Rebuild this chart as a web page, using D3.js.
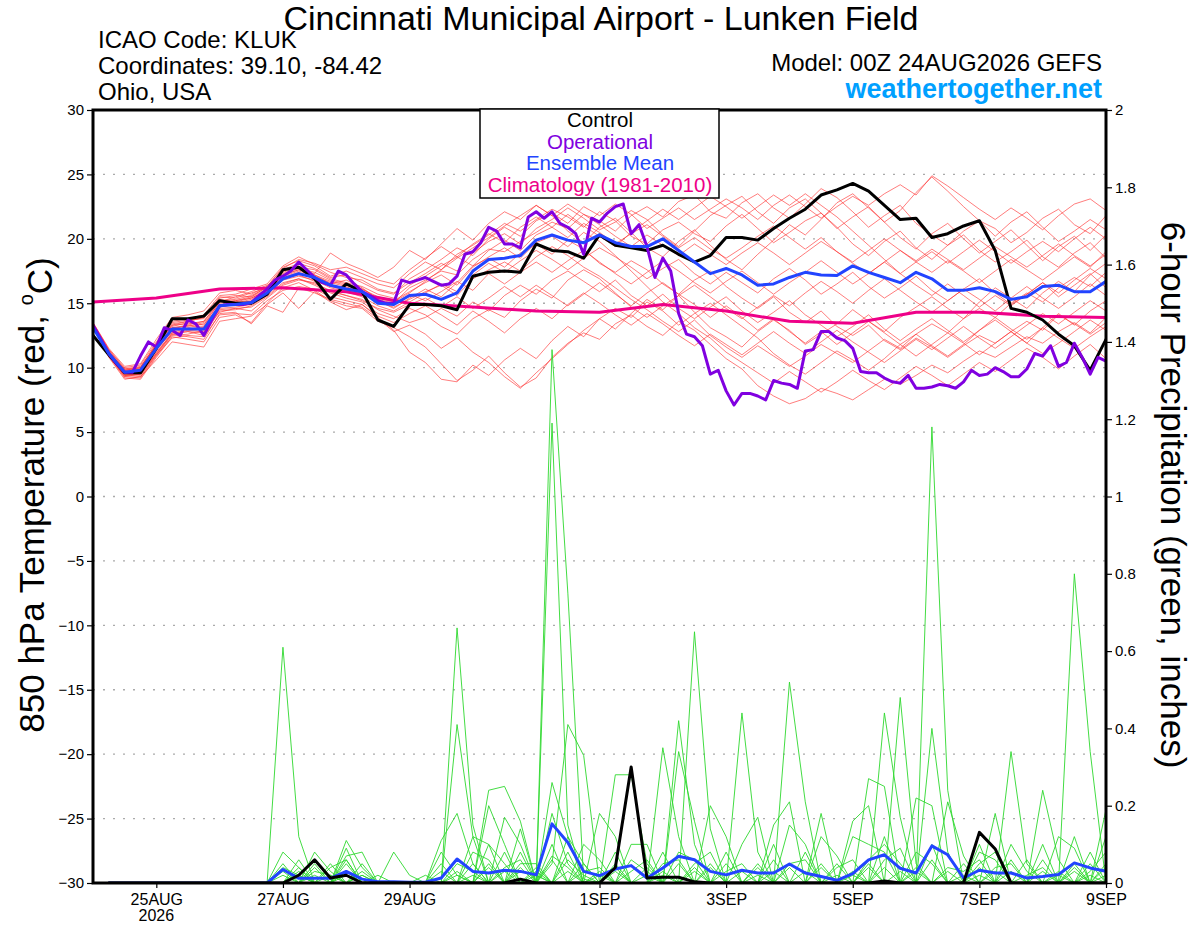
<!DOCTYPE html>
<html>
<head>
<meta charset="utf-8">
<script src="https://cdn.jsdelivr.net/npm/d3@7"></script>
<style>
  body { margin: 0; background: #fff; }
  svg { font-family: "Liberation Sans", Arial, Helvetica, sans-serif; }
</style>
</head>
<body>
<svg id="chart" width="1200" height="927"></svg>
<script>
// ---- data ----

// tick labels
var tempTicks = [-30, -25, -20, -15, -10, -5, 0, 5, 10, 15, 20, 25, 30];
var precipTicks = [0, 0.2, 0.4, 0.6, 0.8, 1, 1.2, 1.4, 1.6, 1.8, 2];
var dateTicks = ["2026-08-25", "2026-08-27", "2026-08-29", "2026-09-01",
                 "2026-09-03", "2026-09-05", "2026-09-07", "2026-09-09"];

// 850 hPa temperature, 6-hourly from 00Z 24AUG (65 values)
var controlTemp = [12.5, 11.0, 9.6, 9.6, 11.5, 13.8, 13.8, 14.0, 15.2, 15.0, 15.0, 15.7, 17.6, 17.8, 16.9, 15.3, 16.5, 15.9, 13.7, 13.2, 14.9,
  14.9, 14.8, 14.5, 17.1, 17.4, 17.5, 17.4, 19.6, 19.1, 19.0, 18.5, 20.3, 19.5, 19.3, 19.1, 19.5, 18.8, 18.2, 18.7, 20.1,
  20.1, 19.9, 20.8, 21.6, 22.3, 23.4, 23.8, 24.3, 23.7, 22.6, 21.5, 21.6, 20.1, 20.4, 21.0, 21.4, 19.1, 14.6, 14.3, 13.7, 12.6, 11.7, 9.8, 12.2];

var meanTemp = [13.1, 11.1, 9.65, 9.8, 11.5, 13.0, 13.0, 13.0, 14.8, 14.9, 15.05, 15.8, 16.9, 17.3, 17.0, 16.4, 16.1, 15.9, 15.0, 14.9, 15.6,
  15.7, 15.3, 15.8, 17.5, 18.4, 18.5, 18.7, 19.9, 20.3, 19.9, 19.7, 20.3, 19.7, 19.4, 19.4, 20.0, 19.1, 18.2, 17.3, 17.7,
  17.2, 16.4, 16.5, 17.0, 17.4, 17.2, 17.15, 17.9, 17.4, 17.0, 16.6, 17.4, 16.9, 16.0, 16.0, 16.2, 15.9, 15.3, 15.5, 16.3, 16.4, 15.9, 15.9, 16.7];

// operational run is 3-hourly (129 values)
var operTemp = [13.3, 12.2, 11.1, 10.3, 9.65, 9.65, 10.9, 12.0, 11.6, 13.1,
  12.9, 12.5, 13.7, 13.4, 12.5, 13.7, 14.8, 14.9, 14.9, 14.9,
  15.05, 15.6, 16.1, 16.8, 17.1, 17.5, 18.2, 17.6, 17.0, 16.6,
  16.4, 17.5, 17.2, 16.5, 15.9, 15.6, 15.2, 15.0, 15.0, 16.8,
  16.6, 16.8, 17.0, 16.7, 16.4, 16.5, 17.1, 18.8, 19.0, 19.7,
  20.9, 20.6, 19.6, 19.6, 19.3, 21.7, 22.1, 21.6, 22.1, 21.2,
  20.9, 20.4, 18.8, 21.6, 21.3, 22.0, 22.5, 22.7, 20.4, 21.1,
  19.4, 17.0, 18.5, 17.5, 14.2, 12.6, 12.4, 11.7, 9.5, 9.8,
  8.2, 7.1, 8.0, 8.0, 7.8, 7.5, 9.0, 8.8, 8.7, 8.4,
  11.3, 11.4, 12.8, 12.8, 12.3, 12.1, 11.5, 9.7, 9.6, 9.6,
  9.2, 8.9, 8.8, 9.4, 8.4, 8.4, 8.5, 8.7, 8.6, 8.4,
  8.9, 9.8, 9.4, 9.5, 10.0, 9.7, 9.3, 9.3, 9.9, 11.1,
  10.9, 11.7, 10.1, 10.4, 11.9, 10.8, 9.5, 10.8, 10.5];

// daily climatology 24AUG..9SEP
var climTemp = [15.1, 15.4, 16.1, 16.2, 15.9, 15.0, 14.7, 14.4, 14.3, 14.9, 14.4, 13.6, 13.45, 14.3, 14.3, 14.0, 13.9];

// ensemble members, temperature (65 values each)
var tempMembers = [
  [13.4, 11.3, 9.8, 10.0, 11.8, 13.4, 13.6, 13.9, 15.3, 15.1, 15.4, 16.0, 17.5, 17.9, 17.2, 16.5, 16.8, 16.2, 15.3, 15.0, 16.2, 16.8, 17.5, 17.2, 18.4, 19.2, 19.0, 19.8, 20.5, 21.3, 20.8, 21.9, 21.4, 20.6, 21.8, 22.5, 21.7, 22.9, 23.4, 22.1, 21.6, 22.8, 23.5, 22.4, 21.6, 22.7, 23.9, 23.2, 22.1, 20.9, 21.8, 22.6, 21.2, 20.3, 19.5, 20.6, 21.4, 20.8, 19.7, 20.5, 21.6, 22.3, 21.1, 20.4, 21.8],
  [13.2, 10.9, 9.2, 9.1, 10.8, 12.4, 12.2, 12.0, 13.9, 14.1, 13.5, 15.0, 16.2, 16.6, 16.0, 15.2, 14.8, 14.6, 13.6, 13.1, 12.4, 11.6, 10.3, 9.0, 9.8, 10.9, 9.6, 8.5, 9.2, 10.8, 11.9, 12.7, 12.2, 13.4, 14.1, 13.2, 12.5, 13.6, 12.9, 11.8, 10.7, 9.9, 8.6, 7.8, 7.2, 7.6, 8.4, 8.0, 7.5, 8.3, 9.1, 8.7, 9.4, 10.2, 9.6, 10.5, 11.3, 10.8, 11.6, 12.4, 11.9, 12.8, 13.5, 12.7, 13.9],
  [13.5, 11.5, 10.1, 10.3, 12.2, 13.9, 14.1, 14.4, 15.8, 16.0, 15.7, 16.3, 17.8, 18.3, 17.9, 17.1, 17.5, 17.0, 16.5, 16.2, 17.3, 18.2, 17.6, 18.8, 19.5, 20.3, 21.2, 20.6, 21.5, 22.3, 21.7, 20.9, 22.1, 21.4, 20.2, 19.6, 20.7, 21.3, 20.4, 19.8, 21.0, 21.9, 20.8, 19.7, 20.5, 21.4, 22.0, 20.9, 19.6, 18.7, 19.8, 20.6, 19.3, 18.4, 19.5, 20.3, 19.1, 18.2, 19.0, 19.9, 18.6, 17.8, 18.9, 19.7, 18.5],
  [13.3, 11.0, 9.5, 9.4, 11.0, 12.6, 12.8, 12.5, 14.4, 14.5, 14.8, 15.6, 16.6, 16.9, 16.4, 15.8, 15.4, 15.1, 14.2, 13.8, 14.6, 14.1, 13.2, 12.6, 13.8, 14.5, 13.9, 15.2, 16.1, 15.4, 16.8, 17.6, 16.9, 15.8, 14.7, 13.9, 14.8, 15.6, 14.3, 13.1, 12.4, 11.6, 12.8, 13.7, 12.9, 11.8, 12.6, 13.4, 14.5, 13.6, 12.8, 13.9, 14.7, 15.5, 14.6, 13.8, 15.1, 16.2, 15.4, 14.6, 15.8, 16.7, 15.9, 17.2, 18.1],
  [13.4, 11.2, 9.9, 10.1, 11.7, 13.2, 13.5, 13.3, 15.1, 15.5, 15.9, 16.4, 17.2, 17.6, 17.3, 18.9, 18.1, 17.6, 17.0, 17.8, 19.1, 18.4, 19.6, 20.8, 19.9, 21.2, 22.1, 21.5, 22.6, 21.8, 20.6, 19.7, 20.9, 21.6, 20.5, 19.3, 18.6, 19.8, 20.7, 19.5, 18.4, 17.6, 18.8, 19.9, 21.1, 20.3, 21.5, 22.8, 23.5, 22.4, 21.3, 22.2, 23.6, 24.8, 23.7, 22.5, 21.4, 20.2, 21.3, 22.1, 20.9, 19.8, 20.6, 21.5, 20.7],
  [13.2, 11.1, 9.6, 9.7, 11.3, 12.9, 13.1, 13.4, 14.7, 14.9, 15.2, 15.9, 17.1, 17.5, 17.1, 16.6, 16.3, 15.7, 15.2, 14.6, 15.4, 16.1, 15.5, 16.6, 17.9, 18.5, 17.8, 18.9, 19.6, 18.8, 19.9, 19.2, 18.1, 17.4, 18.3, 17.6, 16.5, 15.7, 16.8, 17.5, 16.3, 15.4, 14.6, 15.5, 14.3, 13.5, 14.4, 13.2, 12.5, 13.3, 12.1, 11.4, 12.3, 11.6, 10.8, 11.7, 12.5, 11.9, 12.8, 13.6, 12.9, 14.1, 13.4, 12.6, 13.5],
  [13.3, 10.8, 9.1, 9.3, 10.6, 12.0, 11.8, 11.6, 13.6, 13.8, 14.0, 14.9, 15.8, 14.6, 15.9, 15.1, 14.5, 14.9, 13.9, 12.9, 11.2, 10.4, 9.1, 8.9, 10.2, 9.4, 10.6, 11.5, 10.7, 12.1, 13.2, 12.4, 13.8, 14.6, 13.9, 15.1, 14.4, 13.3, 14.2, 15.0, 14.1, 13.2, 12.3, 11.1, 10.2, 9.5, 10.4, 11.3, 10.6, 9.8, 10.7, 11.8, 12.6, 11.7, 10.9, 11.8, 12.9, 13.7, 12.8, 11.9, 13.1, 14.2, 13.3, 14.4, 15.2],
  [13.4, 11.4, 10.0, 10.2, 12.0, 13.6, 13.8, 14.1, 15.6, 15.7, 16.1, 16.5, 17.9, 18.6, 18.0, 17.4, 17.0, 16.8, 16.1, 15.8, 16.6, 17.3, 18.1, 17.5, 18.9, 19.8, 20.4, 19.6, 20.8, 21.5, 22.4, 21.6, 20.7, 21.3, 22.2, 21.5, 20.3, 19.4, 20.6, 21.8, 22.6, 23.3, 22.1, 21.2, 22.4, 23.1, 22.0, 20.8, 21.7, 22.5, 21.3, 20.1, 19.2, 20.4, 21.2, 20.0, 18.9, 19.8, 20.7, 19.5, 18.3, 19.4, 20.2, 19.1, 20.3],
  [13.1, 11.0, 9.4, 9.5, 11.2, 12.7, 12.9, 12.8, 14.6, 14.7, 14.9, 15.7, 16.8, 17.1, 16.8, 16.2, 15.9, 15.5, 14.8, 14.4, 15.1, 15.8, 16.5, 15.9, 17.2, 18.1, 17.4, 18.3, 19.1, 18.4, 17.6, 18.5, 19.3, 18.6, 17.8, 16.9, 17.7, 18.4, 17.3, 16.5, 17.4, 16.6, 15.8, 16.9, 17.7, 16.8, 15.7, 16.5, 17.4, 16.3, 15.4, 16.2, 17.1, 16.0, 15.2, 16.1, 16.9, 15.8, 14.9, 15.7, 16.6, 15.5, 16.4, 17.3, 16.2],
  [13.2, 11.1, 9.5, 9.6, 11.4, 12.8, 13.0, 13.2, 14.9, 15.0, 15.3, 16.0, 17.0, 17.4, 16.9, 16.3, 16.0, 15.8, 15.1, 14.7, 15.3, 15.9, 16.4, 15.6, 16.9, 17.6, 18.2, 17.5, 18.6, 19.4, 18.7, 17.8, 17.1, 16.2, 15.3, 14.5, 13.6, 12.8, 13.7, 12.5, 11.6, 10.8, 11.7, 10.9, 10.1, 10.9, 11.8, 11.1, 10.4, 11.3, 12.2, 11.5, 12.6, 13.4, 12.7, 13.8, 14.6, 13.9, 15.0, 15.8, 15.1, 16.2, 17.0, 16.3, 17.4],
  [13.5, 11.4, 9.9, 10.0, 11.9, 13.5, 13.7, 13.8, 15.5, 15.4, 15.8, 16.2, 17.6, 18.1, 17.7, 17.0, 17.2, 16.6, 16.0, 15.7, 16.9, 17.6, 18.4, 19.3, 18.7, 20.0, 20.9, 20.2, 21.4, 22.0, 21.2, 22.5, 21.8, 22.7, 21.9, 20.8, 21.6, 22.4, 21.5, 22.3, 23.1, 22.4, 21.5, 22.6, 23.4, 22.5, 21.6, 22.5, 23.3, 22.6, 23.5, 24.2, 23.4, 24.9, 24.1, 23.2, 22.3, 21.5, 22.4, 21.6, 20.7, 21.8, 22.7, 23.1, 22.2],
  [13.2, 11.0, 9.3, 9.2, 10.9, 12.5, 12.6, 12.9, 14.3, 14.6, 14.4, 15.4, 16.4, 16.8, 16.6, 15.9, 15.6, 15.3, 14.5, 14.0, 13.5, 13.9, 14.6, 14.0, 15.1, 14.4, 15.6, 16.4, 15.7, 16.8, 17.5, 16.7, 15.9, 16.8, 15.6, 14.8, 15.7, 14.6, 13.8, 14.7, 15.5, 14.4, 13.5, 14.3, 15.2, 14.1, 13.3, 12.4, 13.2, 14.1, 13.0, 12.1, 13.0, 13.8, 12.9, 12.0, 12.9, 13.9, 13.0, 12.2, 13.1, 12.3, 11.5, 12.4, 13.2],
  [13.3, 11.2, 9.7, 9.9, 11.6, 13.1, 13.2, 13.5, 15.0, 15.2, 15.5, 16.1, 17.3, 17.7, 17.4, 16.8, 16.5, 16.1, 15.5, 15.2, 15.9, 16.6, 17.2, 16.4, 17.8, 18.6, 19.3, 18.5, 19.7, 20.2, 19.4, 20.5, 19.8, 18.7, 17.5, 16.3, 15.1, 14.2, 13.1, 12.3, 11.2, 10.4, 9.6, 8.8, 9.7, 8.9, 8.1, 8.9, 9.8, 9.0, 8.3, 9.2, 10.1, 9.4, 8.6, 9.5, 10.4, 9.7, 10.6, 11.5, 10.8, 9.9, 10.9, 11.8, 10.7],
  [13.4, 11.3, 9.8, 10.0, 11.8, 13.3, 13.4, 13.6, 15.2, 15.3, 15.6, 16.2, 17.4, 17.8, 17.6, 16.9, 16.6, 16.3, 15.7, 15.4, 16.4, 17.1, 17.9, 18.6, 17.9, 19.1, 19.9, 19.1, 20.3, 20.9, 20.1, 21.2, 20.5, 19.6, 20.4, 21.1, 20.2, 19.3, 20.1, 19.2, 18.5, 19.3, 20.2, 21.0, 20.1, 19.2, 20.1, 19.0, 18.2, 19.1, 20.0, 19.1, 18.3, 19.2, 18.4, 17.6, 18.5, 19.4, 18.6, 17.8, 18.7, 19.6, 18.7, 17.9, 18.8],
  [13.2, 11.1, 9.6, 9.8, 11.5, 13.0, 13.3, 13.1, 14.8, 15.1, 15.1, 15.8, 16.9, 17.2, 16.7, 16.4, 16.2, 16.0, 15.0, 14.9, 15.7, 15.2, 15.9, 16.7, 16.0, 17.3, 16.5, 17.4, 18.2, 17.4, 18.3, 19.1, 18.2, 17.3, 16.5, 17.4, 18.3, 17.5, 16.6, 15.8, 16.7, 17.5, 16.6, 15.7, 16.6, 17.4, 18.3, 17.4, 16.5, 17.3, 18.2, 17.3, 18.2, 19.0, 18.1, 19.0, 19.9, 19.0, 18.1, 19.0, 19.8, 19.0, 20.0, 20.9, 20.0],
  [13.3, 10.9, 9.3, 9.5, 11.1, 12.6, 12.4, 12.2, 14.2, 14.3, 13.4, 14.8, 14.3, 16.2, 15.8, 15.3, 15.0, 14.7, 13.8, 12.8, 13.3, 12.6, 11.5, 12.3, 11.2, 10.4, 9.3, 8.4, 9.6, 10.7, 11.8, 12.9, 13.8, 13.0, 14.2, 15.3, 14.5, 15.6, 16.4, 15.5, 14.6, 13.8, 14.7, 15.6, 14.8, 15.8, 16.7, 15.9, 15.0, 16.0, 16.9, 16.0, 15.1, 14.3, 15.2, 16.1, 15.3, 14.4, 15.4, 16.3, 15.4, 14.6, 15.5, 16.5, 15.6],
  [13.4, 11.2, 9.8, 9.9, 11.7, 13.3, 13.6, 13.9, 15.4, 15.6, 15.5, 16.3, 17.7, 18.4, 18.1, 17.6, 17.8, 17.3, 16.8, 16.5, 17.6, 18.5, 19.4, 18.6, 19.6, 20.4, 19.7, 20.9, 21.7, 20.9, 21.9, 21.0, 20.2, 19.4, 20.5, 21.4, 22.3, 21.5, 22.4, 23.3, 22.5, 21.6, 22.5, 23.4, 22.6, 23.5, 22.6, 21.7, 20.6, 19.5, 18.4, 17.3, 16.4, 15.6, 16.5, 15.6, 14.7, 15.6, 14.8, 15.7, 16.6, 15.8, 16.8, 17.7, 16.9],
  [13.1, 10.9, 9.4, 9.5, 11.1, 12.7, 12.8, 12.7, 14.5, 14.6, 14.7, 15.5, 16.5, 16.9, 16.5, 16.0, 15.6, 15.2, 14.6, 14.3, 14.9, 15.4, 14.7, 15.5, 14.6, 15.4, 16.3, 15.5, 16.4, 15.6, 14.8, 15.7, 16.6, 15.7, 14.8, 15.8, 16.6, 15.7, 14.9, 13.9, 14.8, 13.9, 12.9, 13.8, 12.8, 11.9, 12.8, 11.8, 12.7, 13.6, 12.7, 11.8, 10.9, 11.8, 12.7, 11.9, 11.0, 11.9, 12.8, 11.9, 11.1, 11.9, 12.8, 13.7, 12.9],
  [13.3, 11.2, 9.7, 9.8, 11.6, 13.1, 13.3, 13.6, 15.1, 15.2, 15.4, 16.0, 17.2, 17.6, 17.2, 16.7, 16.4, 16.1, 15.4, 15.1, 15.8, 16.7, 17.6, 18.5, 19.3, 20.1, 21.0, 21.8, 22.6, 21.8, 22.7, 21.9, 21.1, 20.2, 19.4, 20.3, 19.5, 18.7, 19.6, 18.8, 18.0, 18.9, 19.7, 18.9, 18.0, 18.9, 19.8, 19.0, 18.1, 17.3, 18.2, 19.1, 18.2, 17.4, 18.3, 17.5, 16.6, 17.5, 18.4, 17.6, 16.8, 17.7, 18.6, 17.8, 19.0],
  [13.2, 11.0, 9.4, 9.3, 11.0, 12.3, 12.5, 12.4, 14.1, 14.2, 14.1, 15.2, 16.0, 16.3, 16.1, 15.5, 15.2, 14.9, 14.0, 13.5, 14.2, 14.8, 14.1, 13.3, 14.4, 13.6, 12.7, 13.8, 14.6, 13.8, 14.9, 15.8, 15.0, 14.1, 13.3, 14.2, 13.4, 12.5, 11.7, 12.6, 11.8, 11.0, 11.9, 12.8, 11.9, 11.1, 12.0, 12.9, 12.0, 11.2, 10.4, 11.3, 12.2, 11.4, 12.3, 13.2, 12.3, 11.5, 12.4, 13.3, 14.2, 13.4, 14.3, 15.2, 14.4]
];

// 6-hour precipitation, inches, periods ending 06Z 24AUG .. 00Z 9SEP (64 values)
var meanPrecip = [0, 0, 0, 0, 0, 0, 0, 0, 0, 0, 0, 0.035, 0.012, 0.012, 0.012, 0.03,
  0.01, 0.003, 0.003, 0.002, 0.002, 0.013, 0.062, 0.03, 0.026, 0.033, 0.03, 0.021, 0.153, 0.105, 0.03, 0.019,
  0.036, 0.045, 0.013, 0.039, 0.069, 0.06, 0.03, 0.021, 0.033, 0.026, 0.026, 0.049, 0.026, 0.017, 0.007, 0.024,
  0.06, 0.073, 0.038, 0.026, 0.096, 0.073, 0.013, 0.033, 0.026, 0.026, 0.013, 0.017, 0.022, 0.052, 0.039, 0.03];

var controlPrecip = [0, 0, 0, 0, 0, 0, 0, 0, 0, 0, 0, 0, 0.02, 0.06, 0.013, 0.02,
  0, 0, 0, 0, 0, 0, 0, 0, 0, 0, 0.01, 0, 0, 0, 0, 0,
  0.04, 0.30, 0.013, 0.015, 0.015, 0.003, 0, 0, 0, 0, 0, 0, 0, 0, 0, 0,
  0, 0.005, 0, 0, 0, 0, 0, 0.131, 0.088, 0, 0, 0, 0, 0, 0, 0];

var precipMembers = [
  [0,0,0,0,0,0,0,0, 0,0,0,.61,.12,0,0,0, 0,0,0,0,0,0,.66,.15, 0,0,0,0,.05,.41,.33,0, 0,0,0,0,0,0,0,0, 0,0,0,.52,.21,0,0,0, 0,0,0,0,0,0,0,0, 0,0,0,0,0,.80,.34,0],
  [0,0,0,0,0,0,0,0, 0,0,0,0,0,0,0,.11, .04,0,0,0,0,0,.41,.12, 0,0,0,0,1.38,.75,.01,0, 0,0,0,0,0,.65,.14,0, 0,0,0,0,0,0,0,0, 0,0,0,0,1.18,.24,0,0, 0,0,0,0,0,0,0,0],
  [0,0,0,0,0,0,0,0, 0,0,0,.08,.04,0,0,.09, 0,0,0,0,0,.11,.18,.05, 0,0,0,0,1.19,.15,0,0, 0,0,0,0,.42,.1,0,0, 0,0,0,0,0,0,0,0, 0,.44,.17,0,0,0,0,0, 0,.34,.05,0,0,0,0,0],
  [0,0,0,0,0,0,0,0, 0,0,0,0,0,.08,.03,0, 0,0,0,0,0,0,0,0, .24,.25,.16,0,0,0,0,0, .28,.28,.05,0,0,0,0,0, .44,.08,0,0,0,0,0,0, .27,.25,0,0,0,0,0,0, 0,0,0,0,0,0,0,.19],
  [0,0,0,0,0,0,0,0, 0,0,0,0,.06,0,0,.07, .08,0,0,0,0,0,0,0, .2,.1,0,0,.26,.12,0,0, 0,0,0,.35,.12,0,0,0, 0,0,0,0,0,.18,0,0, 0,0,.48,.05,0,0,0,0, 0,0,0,.24,.06,0,0,0],
  [0,0,0,0,0,0,0,0, 0,0,0,.05,0,.05,0,0, 0,0,.08,.02,0,0,0,.12, .1,0,.14,0,0,0,0,.18, .12,0,0,0,.34,.16,0,0, 0,0,0,.15,.1,0,0,0, 0,0,0,0,.4,.08,0,0, .18,0,0,0,0,0,0,0],
  [0,0,0,0,0,0,0,0, 0,0,0,0,0,0,0,.06, 0,0,0,0,0,.08,.02,0, 0,.17,.1,0,.18,.05,0,0, 0,.1,.1,0,0,0,0,0, .1,.17,0,0,0,0,0,.16, .2,0,0,0,0,0,0,.1, 0,0,0,0,0,.12,0,0],
  [0,0,0,0,0,0,0,0, 0,0,0,0,.03,0,.05,0, .03,0,0,0,0,0,0,.05, 0,0,.05,.05,0,0,.1,.06, 0,0,0,0,0,0,.2,.12, 0,0,.15,.21,0,0,0,0, 0,0,0,.22,.2,0,0,0, 0,0,0,0,.12,.09,0,.12],
  [0,0,0,0,0,0,0,0, 0,0,0,0,0,0,0,.05, 0,.02,0,0,0,0,0,0, .1,.05,0,.03,0,.12,.05,0, .08,0,0,.08,0,0,0,0, 0,0,.1,0,0,.12,.07,0, 0,0,0,0,0,.21,.07,0, 0,.1,.03,0,0,0,0,0],
  [0,0,0,0,0,0,0,0, 0,0,0,0,0,.03,.02,0, 0,0,0,0,.02,0,0,0, 0,0,.03,.02,0,0,0,0, .05,0,.04,0,0,0,0,.05, 0,0,0,0,.08,0,0,.12, .1,.08,0,0,0,0,0,.08, .06,0,0,.1,0,0,.05,0],
  [0,0,0,0,0,0,0,0, 0,0,0,.04,.02,0,0,0, 0,0,0,0,0,0,.05,.03, 0,0,0,0,.07,.04,0,0, 0,0,0,.05,.06,0,0,0, 0,0,0,0,0,0,.04,.06, 0,0,0,0,0,.04,.03,.06, 0,0,0,0,0,0,.03,.08],
  [0,0,0,0,0,0,0,0, 0,0,0,0,0,0,.04,.06, 0,0,0,0,0,0,0,0, 0,.04,.06,0,0,0,.03,.04, 0,0,0,0,0,.05,.08,0, 0,.04,0,0,.03,0,0,0, .06,.1,.05,0,0,0,0,0, .04,.05,0,0,0,.04,0,0],
  [0,0,0,0,0,0,0,0, 0,0,0,0,0,.02,0,0, .05,0,0,0,0,.03,0,0, .05,0,0,.02,0,0,0,0, 0,.06,.03,0,0,0,0,.03, .05,0,0,0,0,.05,0,0, 0,0,0,.08,.05,0,0,0, 0,0,.02,.04,0,0,0,.05],
  [0,0,0,0,0,0,0,0, 0,0,0,0,.04,0,0,.03, 0,0,0,0,0,0,0,.08, .06,0,0,0,0,.08,0,0, .04,0,0,0,.08,.06,0,0, 0,0,0,.04,0,0,.02,0, 0,.06,.09,0,0,0,.02,0, 0,.03,0,0,.03,0,0,0],
  [0,0,0,0,0,0,0,0, 0,0,0,.03,0,0,0,0, .02,0,0,0,0,0,.02,0, 0,.08,0,0,.1,0,0,.02, 0,0,0,.03,0,0,.05,0, 0,0,.06,0,0,0,0,0, .05,0,0,0,.06,0,0,.05, .08,0,0,0,0,.05,0,0],
  [0,0,0,0,0,0,0,0, 0,0,0,0,.02,0,0,.02, 0,0,0,0,0,0,0,0, 0,0,.08,0,0,.06,.02,0, 0,.03,.06,0,0,.04,0,0, 0,.02,0,0,0,0,0,.03, 0,.12,0,0,0,.03,0,0, 0,0,0,.06,0,0,.08,0],
  [0,0,0,0,0,0,0,0, 0,0,0,0,0,0,.02,0, 0,0,0,0,0,.05,0,0, 0,0,0,.04,0,0,.05,0, 0,0,0,.02,0,0,0,.08, 0,0,0,.05,.06,0,0,0, .04,0,0,.03,0,0,0,.04, 0,.06,0,0,0,0,0,.04],
  [0,0,0,0,0,0,0,0, 0,0,0,0,0,.04,0,0, .02,0,0,0,0,0,0,0, .04,0,0,0,.06,0,0,0, .03,0,0,0,.05,0,0,0, .03,0,0,0,0,.04,0,0, 0,0,.03,0,0,0,.05,0, 0,0,.06,0,.02,0,0,0],
  [0,0,0,0,0,0,0,0, 0,0,0,0,0,0,0,.03, 0,0,0,0,0,0,0,.02, 0,0,.04,0,0,0,0,.03, 0,0,0,0,0,0,.04,0, 0,0,.03,0,0,0,.05,0, 0,.04,0,0,.1,0,0,0, .03,0,0,0,0,.03,0,.02],
  [0,0,0,0,0,0,0,0, 0,0,0,.02,0,0,0,0, 0,0,0,0,0,0,.03,0, 0,.03,0,0,0,.03,0,0, 0,0,.02,0,0,.03,0,0, 0,.05,0,0,0,0,0,.02, 0,0,0,.04,0,0,0,.02, 0,0,0,.03,0,0,.02,0]
];

// ---- layout ----
var plot = {left: 93, right: 1106, top: 110, bottom: 883};
var HOUR = 3600 * 1000;
var t0 = Date.UTC(2026, 7, 24, 0), t1 = Date.UTC(2026, 8, 9, 0);

var colors = {
    member: "#ff3030", precip: "#2fd82f", control: "#000000",
    oper: "#8000e0", mean: "#2244ff", clim: "#ee0088", site: "#00a0ff"
};

var svg = d3.select("#chart");

var x = d3.scaleUtc().domain([t0, t1]).range([plot.left, plot.right]);
var yT = d3.scaleLinear().domain([-30, 30]).range([plot.bottom, plot.top]);
var yP = d3.scaleLinear().domain([0, 2]).range([plot.bottom, plot.top]);

svg.append("rect").attr("width", 1200).attr("height", 927).attr("fill", "#fff");

svg.append("clipPath").attr("id", "plotclip")
    .append("rect")
    .attr("x", plot.left).attr("y", plot.top)
    .attr("width", plot.right - plot.left).attr("height", plot.bottom - plot.top);

// dotted grid at the temperature ticks
svg.append("g").attr("class", "grid")
    .selectAll("line")
    .data(tempTicks.filter(function (d) { return d > -30 && d < 30; }))
    .enter().append("line")
    .attr("x1", plot.left).attr("x2", plot.right)
    .attr("y1", function (d) { return yT(d); })
    .attr("y2", function (d) { return yT(d); })
    .attr("stroke", "#aaa").attr("stroke-width", 1.3)
    .attr("stroke-dasharray", "2,8");

// line generators
function stepLine(yScale, hours, offset) {
    return d3.line()
        .x(function (d, i) { return x(t0 + (i + offset) * hours * HOUR); })
        .y(function (d) { return yScale(d); });
}
var temp6h = stepLine(yT, 6, 0),
    temp3h = stepLine(yT, 3, 0),
    tempDaily = stepLine(yT, 24, 0),
    precip6h = stepLine(yP, 6, 1);

var lines = svg.append("g").attr("clip-path", "url(#plotclip)");

lines.append("g").selectAll("path").data(tempMembers).enter().append("path")
    .attr("d", temp6h).attr("fill", "none")
    .attr("stroke", colors.member).attr("stroke-width", 0.9).attr("stroke-opacity", 0.7);

lines.append("g").selectAll("path").data(precipMembers).enter().append("path")
    .attr("d", precip6h).attr("fill", "none")
    .attr("stroke", colors.precip).attr("stroke-width", 1).attr("stroke-opacity", 0.9);

function thick(data, gen, color) {
    lines.append("path").datum(data)
        .attr("d", gen).attr("fill", "none")
        .attr("stroke", color).attr("stroke-width", 3)
        .attr("stroke-linejoin", "round").attr("stroke-linecap", "round");
}
thick(meanPrecip, precip6h, colors.mean);
thick(controlPrecip, precip6h, colors.control);
thick(climTemp, tempDaily, colors.clim);
thick(controlTemp, temp6h, colors.control);
thick(operTemp, temp3h, colors.oper);
thick(meanTemp, temp6h, colors.mean);

// ---- axes ----
var fmtDay = d3.utcFormat("%-d%b"), parseDay = d3.utcParse("%Y-%m-%d");

function styleAxis(g) {
    g.select(".domain").remove();
    g.selectAll(".tick line").attr("stroke", "#000").attr("stroke-width", 1.2);
    g.selectAll(".tick text").attr("fill", "#000")
        .style("font-size", "15px").style("font-family", "Liberation Sans, Arial, sans-serif");
}

svg.append("g").attr("transform", "translate(" + plot.left + ",0)")
    .call(d3.axisLeft(yT).tickValues(tempTicks).tickSize(6).tickPadding(3))
    .call(styleAxis);

svg.append("g").attr("transform", "translate(" + plot.right + ",0)")
    .call(d3.axisRight(yP).tickValues(precipTicks).tickSize(6).tickPadding(3)
        .tickFormat(d3.format("~g")))
    .call(styleAxis);

var xAxis = svg.append("g").attr("transform", "translate(0," + plot.bottom + ")")
    .call(d3.axisBottom(x).tickValues(dateTicks.map(parseDay)).tickSize(5).tickPadding(6)
        .tickFormat(function (d) { return fmtDay(d).toUpperCase(); }))
    .call(styleAxis);
xAxis.selectAll(".tick text").style("font-size", "16px");

// year under the first date tick
svg.append("text")
    .attr("x", x(parseDay(dateTicks[0]))).attr("y", 921)
    .attr("text-anchor", "middle").style("font-size", "16px")
    .text(d3.utcFormat("%Y")(parseDay(dateTicks[0])));

// frame
svg.append("rect")
    .attr("x", plot.left).attr("y", plot.top)
    .attr("width", plot.right - plot.left).attr("height", plot.bottom - plot.top)
    .attr("fill", "none").attr("stroke", "#000").attr("stroke-width", 3);

// ---- legend ----
var legendItems = [
    {label: "Control", color: colors.control},
    {label: "Operational", color: colors.oper},
    {label: "Ensemble Mean", color: colors.mean},
    {label: "Climatology (1981-2010)", color: colors.clim}
];
var legend = svg.append("g");
legend.append("rect")
    .attr("x", 480).attr("y", 109).attr("width", 239).attr("height", 89)
    .attr("fill", "#fff").attr("stroke", "#000").attr("stroke-width", 1.5);
legend.selectAll("text").data(legendItems).enter().append("text")
    .attr("x", 600).attr("y", function (d, i) { return 127 + i * 21.5; })
    .attr("text-anchor", "middle").style("font-size", "20.5px")
    .attr("fill", function (d) { return d.color; })
    .text(function (d) { return d.label; });

// ---- titles ----
svg.append("text").attr("x", 601).attr("y", 30).attr("text-anchor", "middle")
    .style("font-size", "34px").text("Cincinnati Municipal Airport - Lunken Field");

var infoLeft = ["ICAO Code: KLUK", "Coordinates: 39.10, -84.42", "Ohio, USA"];
svg.append("g").selectAll("text").data(infoLeft).enter().append("text")
    .attr("x", 98).attr("y", function (d, i) { return 48 + i * 26; })
    .style("font-size", "24px").text(function (d) { return d; });

svg.append("text").attr("x", 1102).attr("y", 71).attr("text-anchor", "end")
    .style("font-size", "24px").text("Model: 00Z 24AUG2026 GEFS");
svg.append("text").attr("x", 1102).attr("y", 98).attr("text-anchor", "end")
    .style("font-size", "27px").style("font-weight", "bold").attr("fill", colors.site)
    .text("weathertogether.net");

var yTitle = svg.append("text")
    .attr("transform", "translate(44,495) rotate(-90)")
    .attr("text-anchor", "middle").style("font-size", "35px");
yTitle.append("tspan").text("850 hPa Temperature (red, ");
yTitle.append("tspan").attr("dy", "-0.55em").style("font-size", "20px").text("o");
yTitle.append("tspan").attr("dy", "0.55em").text("C)");

svg.append("text")
    .attr("transform", "translate(1161,495) rotate(90)")
    .attr("text-anchor", "middle").style("font-size", "35px")
    .text("6-hour Precipitation (green, inches)");
</script>
</body>
</html>
